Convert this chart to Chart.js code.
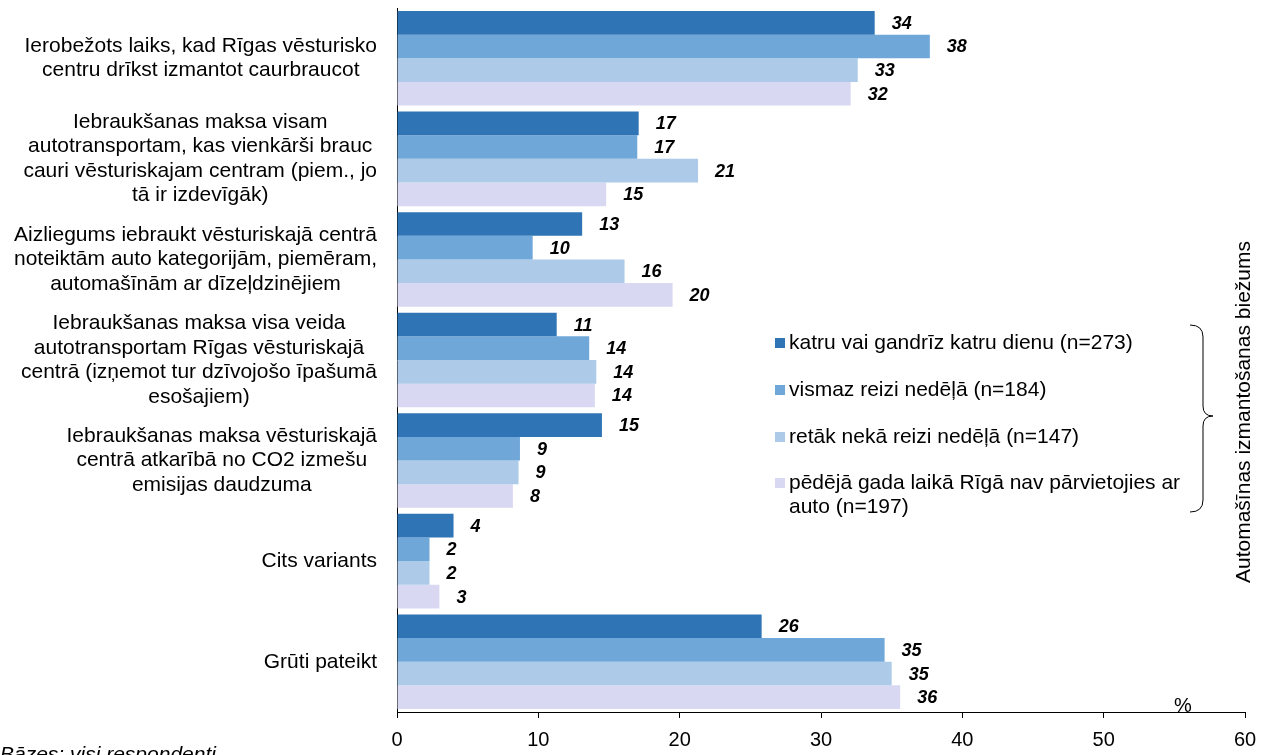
<!DOCTYPE html>
<html>
<head>
<meta charset="utf-8">
<script src="https://cdn.jsdelivr.net/npm/chart.js@4.4.1/dist/chart.umd.min.js"></script>
<style>
html, body { margin: 0; padding: 0; background: #fff; }
#wrap { width: 1268px; height: 755px; }
</style>
</head>
<body>
<div id="wrap"><canvas id="mainChart"></canvas></div>
<script>
// category labels, one array of lines per category
const categories = [
    ["Ierobežots laiks, kad Rīgas vēsturisko", "centru drīkst izmantot caurbraucot"],
    ["Iebraukšanas maksa visam", "autotransportam, kas vienkārši brauc", "cauri vēsturiskajam centram (piem., jo", "tā ir izdevīgāk)"],
    ["Aizliegums iebraukt vēsturiskajā centrā", "noteiktām auto kategorijām, piemēram,", "automašīnām ar dīzeļdzinējiem"],
    ["Iebraukšanas maksa visa veida", "autotransportam Rīgas vēsturiskajā", "centrā (izņemot tur dzīvojošo īpašumā", "esošajiem)"],
    ["Iebraukšanas maksa vēsturiskajā", "centrā atkarībā no CO2 izmešu", "emisijas daudzuma"],
    ["Cits variants"],
    ["Grūti pateikt"]
];

const seriesNames = [
    "katru vai gandrīz katru dienu (n=273)",
    "vismaz reizi nedēļā (n=184)",
    "retāk nekā reizi nedēļā (n=147)",
    "pēdējā gada laikā Rīgā nav pārvietojies ar auto (n=197)"
];

const dailyValues = [33.8, 17.1, 13.1, 11.3, 14.5, 4.0, 25.8];
const weeklyValues = [37.7, 17.0, 9.6, 13.6, 8.7, 2.3, 34.5];
const rarelyValues = [32.6, 21.3, 16.1, 14.1, 8.6, 2.3, 35.0];
const notDrivenValues = [32.1, 14.8, 19.5, 14.0, 8.2, 3.0, 35.6];

const dailyLabels = [34, 17, 13, 11, 15, 4, 26];
const weeklyLabels = [38, 17, 10, 14, 9, 2, 35];
const rarelyLabels = [33, 21, 16, 14, 9, 2, 35];
const notDrivenLabels = [32, 15, 20, 14, 8, 3, 36];

const xTicks = [0, 10, 20, 30, 40, 50, 60];

const groupTitle = "Automašīnas izmantošanas biežums";
const baseNote = "Bāzes: visi respondenti";
const unitLabel = "%";

const seriesColors = ["#2f74b5", "#70a7d9", "#adcbe8", "#d9d8f2"];
const FONT = "'Liberation Sans', Arial, sans-serif";

// =======================
// Custom drawing
// =======================

const extrasPlugin = {
    id: "extras",
    afterDatasetsDraw(chart) {
        const ctx = chart.ctx;
        const yScale = chart.scales.y;
        const area = chart.chartArea;

        // value labels at the end of each bar
        ctx.save();
        ctx.font = "italic bold 18px " + FONT;
        ctx.fillStyle = "#000";
        ctx.textAlign = "left";
        ctx.textBaseline = "middle";
        chart.data.datasets.forEach((ds, di) => {
            const meta = chart.getDatasetMeta(di);
            meta.data.forEach((bar, i) => {
                ctx.fillText(String(ds.valueLabels[i]), bar.x + 17, bar.y + 1);
            });
        });
        ctx.restore();

        // category labels: block right aligned, lines centred in the block
        ctx.save();
        ctx.font = "21px " + FONT;
        ctx.fillStyle = "#000";
        ctx.textAlign = "center";
        ctx.textBaseline = "middle";
        const lineH = 24.5;
        categories.forEach((lines, i) => {
            const cy = yScale.getPixelForValue(i);
            let widest = 0;
            lines.forEach(l => { widest = Math.max(widest, ctx.measureText(l).width); });
            const cx = area.left - 20 - widest / 2;
            const y0 = cy - (lines.length - 1) * lineH / 2;
            lines.forEach((l, k) => ctx.fillText(l, cx, y0 + k * lineH));
        });
        ctx.restore();

        // legend
        ctx.save();
        ctx.font = "21px " + FONT;
        ctx.textAlign = "left";
        ctx.textBaseline = "middle";
        const legX = 775;
        const rowYs = [343, 390, 437, 483];
        const maxW = 400;
        seriesNames.forEach((name, i) => {
            ctx.fillStyle = seriesColors[i];
            ctx.fillRect(legX, rowYs[i] - 5, 10, 10);
            ctx.fillStyle = "#000";
            const words = name.split(" ");
            let line = "";
            let y = rowYs[i];
            words.forEach(w => {
                const test = line ? line + " " + w : w;
                if (ctx.measureText(test).width > maxW && line) {
                    ctx.fillText(line, legX + 14, y);
                    line = w;
                    y += 24;
                } else {
                    line = test;
                }
            });
            ctx.fillText(line, legX + 14, y);
        });

        // brace
        ctx.strokeStyle = "#000";
        ctx.lineWidth = 1;
        const bx = 1190, top = 325, bottom = 512, mid = 416, tip = 1213, mx = 1203;
        ctx.beginPath();
        ctx.moveTo(bx, top);
        ctx.quadraticCurveTo(mx, top, mx, top + 12);
        ctx.lineTo(mx, mid - 10);
        ctx.quadraticCurveTo(mx, mid, tip, mid);
        ctx.quadraticCurveTo(mx, mid, mx, mid + 10);
        ctx.lineTo(mx, bottom - 12);
        ctx.quadraticCurveTo(mx, bottom, bx, bottom);
        ctx.stroke();

        // vertical group title
        ctx.fillStyle = "#000";
        ctx.translate(1244, 412);
        ctx.rotate(-Math.PI / 2);
        ctx.textAlign = "center";
        ctx.fillText(groupTitle, 0, 0);
        ctx.restore();

        // unit and base note
        ctx.save();
        ctx.font = "20px " + FONT;
        ctx.fillStyle = "#000";
        ctx.textAlign = "center";
        ctx.textBaseline = "middle";
        ctx.fillText(unitLabel, 1183, 706);
        ctx.font = "italic 21px " + FONT;
        ctx.textAlign = "left";
        ctx.textBaseline = "alphabetic";
        ctx.fillText(baseNote, 0, 761);
        ctx.restore();
    }
};

const valueSets = [dailyValues, weeklyValues, rarelyValues, notDrivenValues];
const labelSets = [dailyLabels, weeklyLabels, rarelyLabels, notDrivenLabels];

new Chart(document.getElementById("mainChart"), {
    type: "bar",
    data: {
        labels: categories.map(c => c.join(" ")),
        datasets: seriesNames.map((name, i) => ({
            label: name,
            data: valueSets[i],
            valueLabels: labelSets[i],
            backgroundColor: seriesColors[i],
            borderWidth: 0,
            categoryPercentage: 0.94,
            barPercentage: 1.0
        }))
    },
    options: {
        indexAxis: "y",
        responsive: true,
        maintainAspectRatio: false,
        animation: false,
        layout: {
            padding: { top: 8, right: 23, left: 0, bottom: 0 }
        },
        plugins: {
            legend: { display: false },
            tooltip: { enabled: false }
        },
        scales: {
            x: {
                min: 0,
                max: 60,
                afterBuildTicks(scale) {
                    scale.ticks = xTicks.map(v => ({ value: v }));
                },
                afterFit(scale) {
                    scale.height = 43;
                },
                grid: {
                    drawOnChartArea: false,
                    drawTicks: true,
                    tickLength: 6,
                    color: "#000"
                },
                border: { color: "#000", width: 1 },
                ticks: {
                    color: "#000",
                    padding: 10,
                    font: { family: FONT, size: 20 }
                }
            },
            y: {
                afterFit(scale) {
                    scale.width = 397;
                },
                grid: { display: false },
                border: { color: "#000", width: 1 },
                ticks: { display: false }
            }
        }
    },
    plugins: [extrasPlugin]
});
</script>
</body>
</html>
